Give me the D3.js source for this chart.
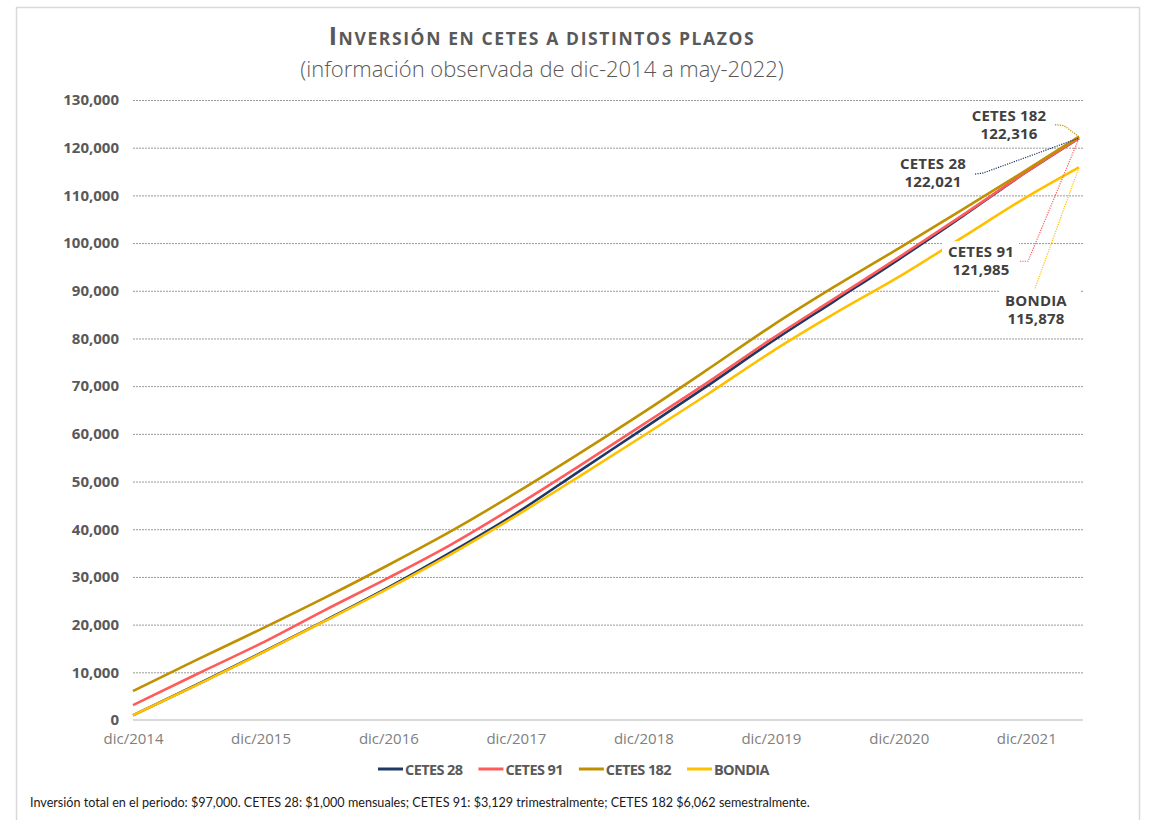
<!DOCTYPE html>
<html>
<head>
<meta charset="utf-8">
<script src="https://cdn.jsdelivr.net/npm/d3@7"></script>
<style>
  html, body { margin: 0; padding: 0; background: #ffffff; }
  svg { display: block; }
</style>
</head>
<body>
<svg id="chart" width="1153" height="820"></svg>
<script>
// ---------- DATA ----------
const fechas = ["2014-12","2015-06","2015-12","2016-06","2016-12","2017-06","2017-12","2018-06",
                "2018-12","2019-06","2019-12","2020-06","2020-12","2021-06","2021-12","2022-05"];
const seriesNames = ["CETES 28", "CETES 91", "CETES 182", "BONDIA"];
const cetes28  = [1000, 7400, 14000, 20800, 27800, 35300, 43300, 52200, 61100, 70000, 79200, 87900, 96600, 105600, 114900, 122021];
const cetes91  = [3129, 9600, 16000, 23000, 29800, 36900, 44900, 53300, 62000, 70700, 79800, 88400, 97000, 105800, 114900, 121985];
const cetes182 = [6062, 12600, 19000, 25600, 32500, 39700, 47600, 55900, 64500, 73400, 82500, 90900, 98900, 107000, 115300, 122316];
const bondia   = [1000, 7300, 13900, 20700, 27600, 34900, 42800, 51100, 59600, 68200, 77100, 85250, 92900, 101200, 109600, 115878];
const yTicks = [0,10000,20000,30000,40000,50000,60000,70000,80000,90000,100000,110000,120000,130000];
const xTickDates = ["2014-12","2015-12","2016-12","2017-12","2018-12","2019-12","2020-12","2021-12"];
const xTickLabels = ["dic/2014","dic/2015","dic/2016","dic/2017","dic/2018","dic/2019","dic/2020","dic/2021"];
const endLabels = ["122,021", "121,985", "122,316", "115,878"];
const titleText = "Inversión en cetes a distintos plazos";
const subtitleText = "(información observada de dic-2014 a may-2022)";
const footnoteText = "Inversión total en el periodo: $97,000. CETES 28: $1,000 mensuales; CETES 91: $3,129 trimestralmente; CETES 182 $6,062 semestralmente.";

// ---------- STYLE ----------
const colors = ["#1f3864", "#ff5b5b", "#bf9000", "#ffc000"];
const FONT = "'Open Sans', 'Noto Sans', sans-serif";

const svg = d3.select("#chart");
const parse = d3.timeParse("%Y-%m");

// frame
svg.append("rect").attr("x", 16.5).attr("y", 7.5).attr("width", 1123).attr("height", 830)
  .attr("fill", "#fff").attr("stroke", "#d9d9d9").attr("stroke-width", 1.5);

const x = d3.scaleTime().domain([parse("2014-12"), parse("2022-05")]).range([133, 1079]);
const y = d3.scaleLinear().domain([0, 130000]).range([720, 100]);
const gridRight = 1083;

// title
const title = svg.append("text").attr("x", 542).attr("y", 45).attr("text-anchor", "middle")
  .attr("font-family", FONT).attr("font-weight", 700).attr("fill", "#595959");
title.append("tspan").attr("font-size", 25).text(titleText.charAt(0).toUpperCase());
title.append("tspan").attr("font-size", 17.5).text(titleText.slice(1).toUpperCase());
(function(){
  const w = title.node().getComputedTextLength();
  const n = titleText.length - 1;
  title.attr("letter-spacing", ((425 - w) / n).toFixed(2));
})();

svg.append("text").attr("x", 542).attr("y", 77).attr("text-anchor", "middle")
  .attr("font-family", FONT).attr("font-weight", 300).attr("font-size", 22).attr("fill", "#595959")
  .text(subtitleText);

// gridlines
svg.append("g").selectAll("line").data(yTicks.filter(d => d > 0)).join("line")
  .attr("x1", 133).attr("x2", gridRight).attr("y1", d => y(d) + 0.5).attr("y2", d => y(d) + 0.5)
  .attr("stroke", "#9a9a9a").attr("stroke-width", 1).attr("stroke-dasharray", "2,1");
svg.append("line").attr("x1", 133).attr("x2", gridRight).attr("y1", y(0)).attr("y2", y(0))
  .attr("stroke", "#d9d9d9").attr("stroke-width", 2);

// y axis labels
const yAxis = d3.axisLeft(y).tickValues(yTicks).tickSize(0).tickPadding(0)
  .tickFormat(d3.format(","));
const gy = svg.append("g").attr("transform", "translate(119,0)").call(yAxis);
gy.select(".domain").remove();
gy.selectAll("text").attr("font-family", FONT).attr("font-weight", 700).attr("font-size", 15)
  .attr("fill", "#595959");

// x axis labels
const xAxis = d3.axisBottom(x).tickValues(xTickDates.map(parse)).tickSize(0).tickPadding(0)
  .tickFormat((d, i) => xTickLabels[i]);
const gx = svg.append("g").attr("transform", "translate(0,733)").call(xAxis);
gx.select(".domain").remove();
gx.selectAll("text").attr("font-family", FONT).attr("font-weight", 400).attr("font-size", 15)
  .attr("fill", "#808080");

// lines
const allSeries = [cetes28, cetes91, cetes182, bondia];
const line = d3.line().x((d, i) => x(parse(fechas[i]))).y(d => y(d)).curve(d3.curveMonotoneX);
svg.append("g").selectAll("path").data(allSeries).join("path")
  .attr("d", d => line(d)).attr("fill", "none")
  .attr("stroke", (d, i) => colors[i]).attr("stroke-width", 2.6).attr("stroke-linejoin", "round");

// annotations (offsets relative to series end point)
const lastIdx = fechas.length - 1;
const ex = x(parse(fechas[lastIdx]));
const ann = [
  {s: 0, tx: -146, ty: 31, box: null, leader: [[-104, 36], [-96, 35]]},
  {s: 1, tx: -98, ty: 119, box: [-137, 103, 77, 42], leader: [[-59, 123], [-51, 123]]},
  {s: 2, tx: -70, ty: -16, box: [-110, -32, 80, 40], leader: [[-24, -12], [-15, -11]]},
  {s: 3, tx: -43, ty: 139, box: [-79, 121, 80, 42], leader: [[-44, 121]]}
];
const annG = svg.append("g");
ann.forEach(a => {
  const ey = y(allSeries[a.s][lastIdx]);
  if (a.box) {
    annG.append("rect").attr("x", ex + a.box[0]).attr("y", ey + a.box[1])
      .attr("width", a.box[2]).attr("height", a.box[3]).attr("fill", "#fff");
  }
});
ann.forEach(a => {
  const ey = y(allSeries[a.s][lastIdx]);
  const pts = a.leader.map(p => [ex + p[0], ey + p[1]]).concat([[ex, ey]]);
  annG.append("path").attr("d", d3.line()(pts)).attr("fill", "none")
    .attr("stroke", colors[a.s]).attr("stroke-width", 1.2).attr("stroke-dasharray", "1.2,1.2");
  const t = annG.append("text").attr("text-anchor", "middle").attr("font-family", FONT)
    .attr("font-weight", 700).attr("font-size", 15).attr("fill", "#404040")
    .attr("letter-spacing", 0.2);
  t.append("tspan").attr("x", ex + a.tx).attr("y", ey + a.ty).text(seriesNames[a.s]);
  t.append("tspan").attr("x", ex + a.tx).attr("y", ey + a.ty + 18).text(endLabels[a.s]);
});

// legend
const legG = svg.append("g").attr("transform", "translate(0,769)");
const items = [];
let cx = 0;
seriesNames.forEach((n, i) => {
  const g = legG.append("g");
  g.append("line").attr("x1", 0).attr("x2", 25).attr("y1", 0).attr("y2", 0)
    .attr("stroke", colors[i]).attr("stroke-width", 3);
  const t = g.append("text").attr("x", 27).attr("y", 5.5).attr("font-family", FONT)
    .attr("font-weight", 700).attr("font-size", 14.5).attr("letter-spacing", -0.6)
    .attr("fill", "#595959").text(n);
  const w = 27 + t.node().getComputedTextLength();
  items.push({g, start: cx});
  cx += w + 16;
});
const totalW = cx - 16;
const legStart = 573.5 - totalW / 2;
items.forEach(it => it.g.attr("transform", `translate(${legStart + it.start},0)`));

// footnote
const fn = svg.append("text").attr("x", 30).attr("y", 807).attr("font-family", "'Lato', 'Noto Sans', sans-serif")
  .attr("font-size", 14.5).attr("fill", "#1a1a1a").text(footnoteText);
(function(){
  const w = fn.node().getComputedTextLength();
  fn.attr("font-size", (14.5 * 780 / w).toFixed(2));
})();
</script>
</body>
</html>
